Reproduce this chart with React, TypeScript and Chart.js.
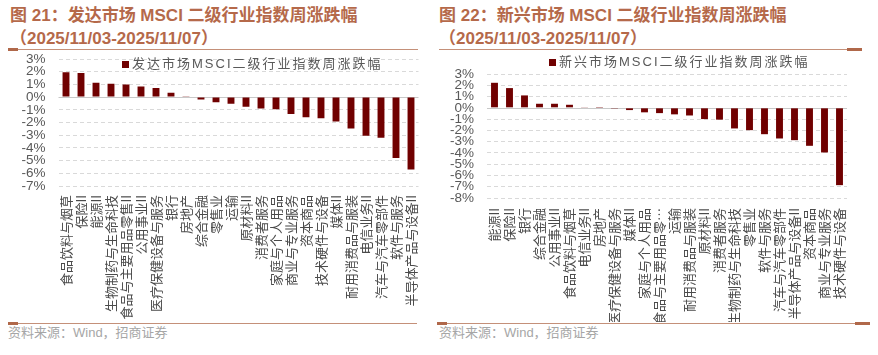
import React, { useEffect, useRef } from 'react';
import { Chart, registerables } from 'chart.js';

Chart.register(...registerables);

// ---------- data ----------
const devCategories = [
  '食品饮料与烟草', '保险II', '能源II', '生物制药与生命科技', '食品与主要用品零售II', '公用事业II',
  '医疗保健设备与服务', '银行', '房地产', '综合金融', '零售业', '运输',
  '原材料II', '消费者服务', '家庭与个人用品', '商业与专业服务', '资本商品', '技术硬件与设备',
  '媒体II', '耐用消费品与服装', '电信业务II', '汽车与汽车零部件', '软件与服务', '半导体产品与设备II',
];
const devValues = [
  1.95, 1.9, 1.13, 1.05, 1.0, 0.84, 0.71, 0.34, 0.02, -0.18, -0.4, -0.53,
  -0.76, -0.9, -0.95, -1.34, -1.58, -1.66, -1.92, -2.47, -3.05, -3.21, -4.79, -5.71,
];
const devTickRange = [-7, 3];

const emCategories = [
  '能源II', '保险II', '银行', '综合金融', '公用事业II', '食品饮料与烟草',
  '电信业务II', '房地产', '医疗保健设备与服务', '媒体II', '家庭与个人用品', '食品与主要用品零…',
  '运输', '耐用消费品与服装', '原材料II', '消费者服务', '生物制药与生命科技', '零售业',
  '软件与服务', '汽车与汽车零部件', '半导体产品与设备II', '资本商品', '商业与专业服务', '技术硬件与设备',
];
const emValues = [
  2.22, 1.75, 1.1, 0.36, 0.36, 0.27, 0.06, 0.01, -0.07, -0.2, -0.4, -0.47,
  -0.58, -0.68, -1.0, -1.05, -1.83, -1.98, -2.34, -2.72, -2.87, -3.37, -3.96, -6.86,
];
const emTickRange = [-8, 3];

const devTitle = ['图 21：发达市场 MSCI 二级行业指数周涨跌幅', '（2025/11/03-2025/11/07）'];
const emTitle = ['图 22：新兴市场 MSCI 二级行业指数周涨跌幅', '（2025/11/03-2025/11/07）'];
const devLegend = '发达市场MSCI二级行业指数周涨跌幅';
const emLegend = '新兴市场MSCI二级行业指数周涨跌幅';
const sourceText = '资料来源：Wind，招商证券';

// ---------- styles ----------
const BAR = '#700000';
const TITLE = '#b5694a';
const RULE = '#c49079';
const RULE_DARK = '#b0684a';

const zeroLine = {
  id: 'zeroLine',
  beforeDatasetsDraw(chart: any) {
    const { ctx, chartArea, scales } = chart;
    const y = Math.round(scales.y.getPixelForValue(0)) + 0.5;
    ctx.save();
    ctx.strokeStyle = '#c8c8c8';
    ctx.lineWidth = 1;
    ctx.beginPath();
    ctx.moveTo(chartArea.left, y);
    ctx.lineTo(chartArea.right, y);
    ctx.stroke();
    ctx.restore();
  },
};

type BarProps = {
  categories: string[];
  values: number[];
  range: number[];
  left: number;
  top: number;
  width: number;
  height: number;
  pad: { left: number; top: number; right: number; bottom: number };
  yWidth: number;
  xHeight: number;
  xPad: number;
};

function BarChart(p: BarProps) {
  const ref = useRef<HTMLCanvasElement | null>(null);
  useEffect(() => {
    if (!ref.current) return;
    const chart = new Chart(ref.current, {
      type: 'bar',
      data: {
        labels: p.categories,
        datasets: [
          {
            data: p.values,
            backgroundColor: BAR,
            borderWidth: 0,
            categoryPercentage: 1,
            barPercentage: 0.46,
          },
        ],
      },
      options: {
        animation: false,
        responsive: false,
        devicePixelRatio: 1,
        layout: { padding: p.pad },
        plugins: { legend: { display: false }, tooltip: { enabled: false } },
        scales: {
          x: {
            grid: { display: false, drawTicks: false },
            border: { display: false },
            ticks: {
              autoSkip: false,
              maxRotation: 90,
              minRotation: 90,
              padding: p.xPad,
              color: '#4a4a4a',
              font: { family: '"Noto Sans CJK SC", sans-serif', size: 13 },
            },
            afterFit: (s: any) => {
              s.height = p.xHeight;
              s.paddingLeft = 0;
              s.paddingRight = 0;
              s.paddingTop = 0;
              s.paddingBottom = 0;
            },
          },
          y: {
            min: p.range[0],
            max: p.range[1],
            grid: {
              drawTicks: false,
              color: (c: any) => (c.tick && c.tick.value === 0 ? 'rgba(0,0,0,0)' : '#d9d9d9'),
              lineWidth: 1,
            },
            border: { display: false, dash: [4, 3] },
            ticks: {
              stepSize: 1,
              autoSkip: false,
              padding: 13,
              color: '#595959',
              font: { family: '"Liberation Sans", Arial, sans-serif', size: 13.5, lineHeight: 1 },
              callback: (v: any) => `${v}%`,
            },
            afterFit: (s: any) => {
              s.width = p.yWidth;
              s.paddingTop = 0;
              s.paddingBottom = 0;
              s.paddingLeft = 0;
              s.paddingRight = 0;
            },
          },
        },
      },
      plugins: [zeroLine],
    });
    return () => chart.destroy();
  }, []);
  return (
    <canvas
      ref={ref}
      width={p.width}
      height={p.height}
      style={{ position: 'absolute', left: p.left, top: p.top, width: p.width, height: p.height }}
    />
  );
}

function Title({ lines, left }: { lines: string[]; left: number }) {
  return (
    <div
      style={{
        position: 'absolute',
        left,
        top: 4,
        color: TITLE,
        fontFamily: '"Liberation Sans", "Noto Sans CJK SC", sans-serif',
        fontWeight: 700,
        fontSize: 17,
        lineHeight: '23px',
        whiteSpace: 'nowrap',
      }}
    >
      {lines.map((l, i) => (
        <div key={i}>{l}</div>
      ))}
    </div>
  );
}

function Legend({ text, left, top }: { text: string; left: number; top: number }) {
  return (
    <div
      style={{
        position: 'absolute',
        left,
        top,
        height: 16,
        display: 'flex',
        alignItems: 'center',
        whiteSpace: 'nowrap',
        color: '#595959',
        fontFamily: '"Liberation Sans", "Noto Sans CJK SC", sans-serif',
        fontSize: 13,
        letterSpacing: '2px',
        lineHeight: '16px',
      }}
    >
      <span style={{ display: 'inline-block', width: 7, height: 7, background: BAR, marginRight: 3 }} />
      <span>{text}</span>
    </div>
  );
}

function Rule({ left, width, top, thickStart, thickEnd }: { left: number; width: number; top: number; thickStart?: boolean; thickEnd?: boolean }) {
  return (
    <>
      <div style={{ position: 'absolute', left, top, width, height: 1, background: RULE }} />
      {thickStart && <div style={{ position: 'absolute', left, top: top - 1, width: 10, height: 3, background: RULE_DARK }} />}
      {thickEnd && <div style={{ position: 'absolute', left: left + width - 15, top: top - 1, width: 15, height: 3, background: RULE_DARK }} />}
    </>
  );
}

function Source({ left }: { left: number }) {
  return (
    <div
      style={{
        position: 'absolute',
        left,
        top: 325,
        color: '#a6a6a6',
        fontFamily: '"Liberation Sans", "Noto Sans CJK SC", sans-serif',
        fontSize: 13,
        lineHeight: '16px',
        whiteSpace: 'nowrap',
      }}
    >
      {sourceText}
    </div>
  );
}

export default function App() {
  return (
    <div style={{ position: 'absolute', left: 0, top: 0, width: 878, height: 355, background: '#fff', overflow: 'hidden' }}>
      <Title lines={devTitle} left={10} />
      <Title lines={emTitle} left={439} />
      <Rule left={8} width={410} top={49} thickStart />
      <Rule left={439} width={423} top={49} thickEnd />

      <BarChart
        categories={devCategories}
        values={devValues}
        range={devTickRange}
        left={0}
        top={50}
        width={430}
        height={272}
        pad={{ left: 0, top: 9, right: 11.5, bottom: 0 }}
        yWidth={58.5}
        xHeight={136}
        xPad={9}
      />
      <BarChart
        categories={emCategories}
        values={emValues}
        range={emTickRange}
        left={430}
        top={50}
        width={448}
        height={272}
        pad={{ left: 0, top: 24, right: 31, bottom: 0 }}
        yWidth={57}
        xHeight={124}
        xPad={10}
      />
      <Legend text={devLegend} left={122} top={56} />
      <Legend text={emLegend} left={549} top={54} />

      <Rule left={8} width={409} top={323} thickStart />
      <Rule left={437} width={433} top={323} thickStart thickEnd />
      <Source left={8} />
      <Source left={439} />
    </div>
  );
}
